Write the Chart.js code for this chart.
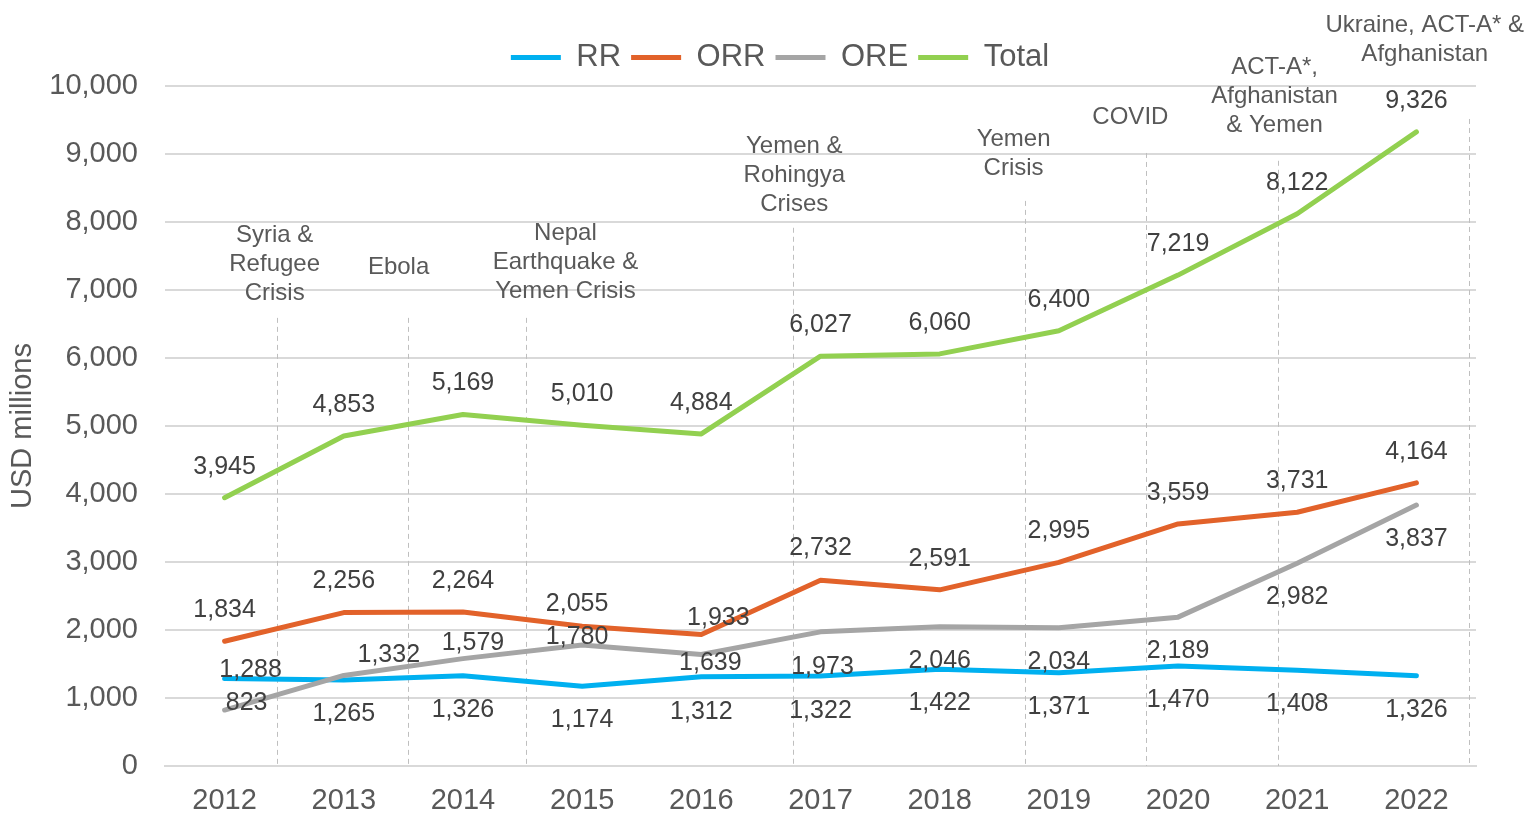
<!DOCTYPE html>
<html>
<head>
<meta charset="utf-8">
<script src="https://cdn.jsdelivr.net/npm/chart.js@4.4.1/dist/chart.umd.min.js"></script>
<style>
    body { margin: 0; background: #fff; }
    #wrap { width: 1532px; height: 815px; }
</style>
</head>
<body>
<div id="wrap"><canvas id="chart" width="1532" height="815"></canvas></div>
<script>
// chart data
const years = ['2012', '2013', '2014', '2015', '2016', '2017', '2018', '2019', '2020', '2021', '2022'];
const rrValues = [1288, 1265, 1326, 1174, 1312, 1322, 1422, 1371, 1470, 1408, 1326];
const orrValues = [1834, 2256, 2264, 2055, 1933, 2732, 2591, 2995, 3559, 3731, 4164];
const oreValues = [823, 1332, 1579, 1780, 1639, 1973, 2046, 2034, 2189, 2982, 3837];
const totalValues = [3945, 4853, 5169, 5010, 4884, 6027, 6060, 6400, 7219, 8122, 9326];
const yTicks = [0, 1000, 2000, 3000, 4000, 5000, 6000, 7000, 8000, 9000, 10000];

// crisis annotations
const eventLabels = [
    ['Syria &', 'Refugee', 'Crisis'],
    ['Ebola'],
    ['Nepal', 'Earthquake &', 'Yemen Crisis'],
    ['Yemen &', 'Rohingya', 'Crises'],
    ['Yemen', 'Crisis'],
    ['COVID'],
    ['ACT-A*,', 'Afghanistan', '& Yemen'],
    ['Ukraine, ACT-A* &', 'Afghanistan']
];

// where the annotations sit, in axis units (category index / USD millions)
const eventLineAt = [0.44, 1.54, 2.53, 4.77, 6.72, 7.73, 8.84, 10.44];
const eventLineTop = [6590, 6590, 6590, 7915, 8310, 9015, 8900, 9515];
const eventTextAt = [0.42, 1.46, 2.86, 4.78, 6.62, 7.60, 8.81, 10.07];
const eventTextTop = [7797, 7327, 7827, 9119, 9222, 9545, 10279, 10896];

// data label nudges in px [dx, dy] per point
const rrLabelNudge = [[26, -8], [0, 34], [0, 34], [0, 34], [0, 35], [0, 35], [0, 34], [0, 34], [0, 34], [0, 34], [0, 34]];
const orrLabelNudge = [[0, -31], [0, -31], [0, -31], [-5, -22], [17, -16], [0, -32], [0, -31], [0, -31], [0, -31], [0, -31], [0, -31]];
const oreLabelNudge = [[22, -7], [45, -20], [10, -16], [-5, -8], [9, 9], [2, 35], [0, 34], [0, 34], [0, 34], [0, 34], [0, 34]];
const totalLabelNudge = [[0, -31], [0, -31], [0, -31], [0, -31], [0, -31], [0, -31], [0, -31], [0, -31], [0, -31], [0, -31], [0, -31]];

const FONT = '"Liberation Sans", Arial, sans-serif';

// draws the value next to every point
const pointLabels = {
    id: 'pointLabels',
    afterDatasetsDraw(chart) {
        const ctx = chart.ctx;
        ctx.save();
        ctx.font = '25px ' + FONT;
        ctx.fillStyle = '#404040';
        ctx.textAlign = 'center';
        ctx.textBaseline = 'middle';
        chart.data.datasets.forEach((ds, i) => {
            const meta = chart.getDatasetMeta(i);
            meta.data.forEach((pt, j) => {
                const nudge = ds.labelNudge[j];
                ctx.fillText(ds.data[j].toLocaleString('en-US'), pt.x + nudge[0], pt.y + nudge[1]);
            });
        });
        ctx.restore();
    }
};

// dashed separators and crisis names
const crisisNotes = {
    id: 'crisisNotes',
    beforeDatasetsDraw(chart) {
        const ctx = chart.ctx;
        const x = chart.scales.x;
        const y = chart.scales.y;
        ctx.save();
        ctx.strokeStyle = '#bfbfbf';
        ctx.lineWidth = 1;
        ctx.setLineDash([5, 4]);
        eventLineAt.forEach((at, i) => {
            const px = Math.round(x.getPixelForValue(at)) + 0.5;
            ctx.beginPath();
            ctx.moveTo(px, y.getPixelForValue(eventLineTop[i]));
            ctx.lineTo(px, y.bottom);
            ctx.stroke();
        });
        ctx.restore();
    },
    afterDraw(chart) {
        const ctx = chart.ctx;
        const x = chart.scales.x;
        const y = chart.scales.y;
        ctx.save();
        ctx.font = '24px ' + FONT;
        ctx.fillStyle = '#595959';
        ctx.textAlign = 'center';
        ctx.textBaseline = 'middle';
        eventLabels.forEach((lines, i) => {
            const px = x.getPixelForValue(eventTextAt[i]);
            const py = y.getPixelForValue(eventTextTop[i]);
            lines.forEach((txt, k) => ctx.fillText(txt, px, py + k * 29));
        });
        ctx.restore();
    }
};

// legend sits right of centre and a little higher than chart.js puts it
const shiftLegend = {
    id: 'shiftLegend',
    afterLayout(chart) {
        const lg = chart.legend;
        lg.left += 42;
        lg.right += 42;
        lg.top -= 3;
        lg.bottom -= 3;
    }
};

function makeSet(label, data, color, nudge, order) {
    return {
        label: label,
        data: data,
        borderColor: color,
        backgroundColor: color,
        borderWidth: 5,
        borderCapStyle: 'round',
        borderJoinStyle: 'round',
        pointRadius: 0,
        tension: 0,
        order: order,
        labelNudge: nudge
    };
}

new Chart(document.getElementById('chart'), {
    type: 'line',
    data: {
        labels: years,
        datasets: [
            makeSet('RR', rrValues, '#00b0f0', rrLabelNudge, 4),
            makeSet('ORR', orrValues, '#e2622a', orrLabelNudge, 3),
            makeSet('ORE', oreValues, '#a5a5a5', oreLabelNudge, 2),
            makeSet('Total', totalValues, '#92d050', totalLabelNudge, 1)
        ]
    },
    options: {
        responsive: false,
        animation: false,
        layout: { padding: { top: 35, right: 56, left: 0, bottom: 0 } },
        plugins: {
            legend: {
                position: 'top',
                labels: {
                    font: { family: FONT, size: 31 },
                    color: '#595959',
                    usePointStyle: true,
                    pointStyle: 'line',
                    pointStyleWidth: 50,
                    padding: 10,
                    sort: (a, b) => a.datasetIndex - b.datasetIndex
                }
            },
            tooltip: { enabled: false }
        },
        scales: {
            x: {
                offset: true,
                grid: { display: false, drawTicks: false, offset: true },
                border: { display: true, color: '#d9d9d9', width: 2 },
                ticks: { font: { family: FONT, size: 29 }, color: '#595959', padding: 18 },
                afterFit(s) { s.height = 49; }
            },
            y: {
                min: 0,
                max: 10000,
                afterBuildTicks(s) { s.ticks = yTicks.map(v => ({ value: v })); },
                grid: { color: '#d9d9d9', lineWidth: 2, drawTicks: false },
                border: { display: false },
                ticks: {
                    font: { family: FONT, size: 29 },
                    color: '#595959',
                    padding: 27,
                    callback: v => v.toLocaleString('en-US')
                },
                title: {
                    display: true,
                    text: 'USD millions',
                    font: { family: FONT, size: 29 },
                    color: '#595959',
                    padding: { top: 6, bottom: 0 }
                },
                afterFit(s) { s.width = 165; }
            }
        }
    },
    plugins: [crisisNotes, pointLabels, shiftLegend]
});
</script>
</body>
</html>
